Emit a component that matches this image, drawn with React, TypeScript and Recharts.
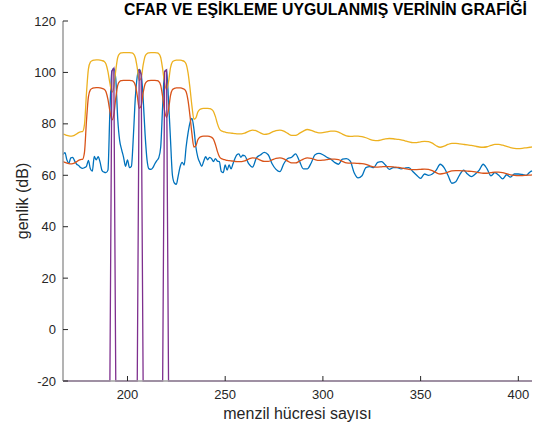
import { LineChart, Line, XAxis, YAxis } from "recharts";

// range cells (dense near the targets, every 2nd cell in the tail)
const cells = [
  167, 168, 169, 170, 171, 172, 173, 174, 175, 176, 177, 178, 179, 180, 181, 182, 183, 184, 185, 186,
  187, 188, 189, 190, 191, 192, 193, 194, 195, 196, 197, 198, 199, 200, 201, 202, 203, 204, 205, 206,
  207, 208, 209, 210, 211, 212, 213, 214, 215, 216, 217, 218, 219, 220, 221, 222, 223, 224, 225, 226,
  227, 228, 229, 230, 231, 232, 233, 234, 235, 236, 237, 238, 239, 240, 241, 242, 243, 244, 245, 246,
  247, 248, 249, 250, 251, 252, 253, 254, 255, 256, 257, 258, 259, 260,
  262, 264, 266, 268, 270, 272, 274, 276, 278, 280, 282, 284, 286, 288, 290, 292, 294, 296, 298, 300,
  302, 304, 306, 308, 310, 312, 314, 316, 318, 320, 322, 324, 326, 328, 330, 332, 334, 336, 338, 340,
  342, 344, 346, 348, 350, 352, 354, 356, 358, 360, 362, 364, 366, 368, 370, 372, 374, 376, 378, 380,
  382, 384, 386, 388, 390, 392, 394, 396, 398, 400, 402, 404, 406, 407,
];

// received signal (dB)
const signal = [
  68.0, 68.8, 66.0, 64.7, 66.8, 67.0, 65.5, 64.3, 63.8, 63.0, 62.7, 63.0, 63.5, 65.8, 62.5, 61.6, 67.3, 66.0, 67.2, 65.0,
  61.8, 61.2, 61.0, 62.0, 85.0, 100.5, 101.6, 97.5, 82.0, 73.5, 70.0, 67.0, 63.5, 66.0, 63.0, 63.5, 75.0, 90.0, 98.5, 101.2,
  99.3, 90.0, 76.0, 66.0, 62.5, 62.3, 63.0, 64.5, 65.7, 66.8, 71.0, 87.0, 100.3, 101.0, 89.0, 74.0, 60.0, 57.0, 56.5, 60.0,
  63.5, 65.0, 64.0, 71.0, 76.5, 80.5, 82.1, 78.0, 71.0, 67.0, 65.0, 63.5, 65.5, 67.2, 66.0, 67.0, 66.5, 65.3, 66.5, 65.5,
  65.3, 61.5, 61.0, 64.0, 62.0, 64.0, 62.5, 64.5, 66.5, 68.0, 68.3, 67.0, 67.8, 67.6,
  64.5, 63.2, 66.8, 67.9, 68.9, 68.0, 64.5, 62.3, 61.4, 64.5, 66.5, 67.0, 68.3, 65.5, 62.5, 62.5, 64.8, 68.0, 68.5, 68.0,
  67.0, 66.3, 65.0, 64.3, 66.3, 66.5, 65.5, 61.0, 59.0, 59.8, 63.0, 63.4, 63.0, 65.0, 65.3, 64.0, 62.3, 63.0, 63.0, 62.5,
  62.8, 63.0, 61.5, 60.0, 58.8, 60.5, 60.0, 60.5, 62.0, 64.3, 63.0, 60.0, 56.9, 57.5, 60.2, 62.0, 60.5, 59.5, 60.5, 62.0,
  64.3, 62.5, 59.8, 61.0, 60.0, 58.6, 60.2, 59.3, 60.5, 60.5, 60.3, 60.0, 61.3, 61.7,
];

// CFAR noise estimate (dB)
const noiseLevel = [
  65.3, 65.0, 64.7, 64.5, 64.4, 64.5, 64.8, 65.3, 65.8, 66.1, 66.2, 69.0, 81.0, 90.5, 93.2, 93.8, 94.0, 94.1, 94.1, 94.0,
  93.8, 93.5, 92.5, 89.5, 85.0, 81.5, 83.5, 90.0, 95.0, 96.5, 96.8, 96.9, 96.9, 96.9, 96.9, 96.8, 96.5, 95.0, 91.0, 86.0,
  87.0, 92.0, 95.5, 96.5, 96.8, 96.9, 96.9, 96.9, 96.8, 96.5, 95.0, 90.5, 85.0, 82.5, 85.5, 91.0, 93.3, 93.8, 94.0, 94.0,
  94.0, 93.8, 93.5, 92.5, 89.0, 83.0, 76.0, 71.0, 71.5, 73.8, 74.8, 75.1, 75.2, 75.2, 75.2, 75.1, 74.8, 74.0, 72.0, 69.3,
  67.3, 66.5, 66.2, 66.0, 65.8, 65.7, 65.6, 65.5, 65.4, 65.3, 65.3, 65.3, 65.4, 65.6,
  66.3, 66.8, 66.6, 65.9, 65.4, 65.4, 66.0, 66.6, 66.8, 66.4, 65.5, 64.8, 64.8, 65.5, 66.3, 66.8, 66.6, 66.1, 65.8, 65.9,
  66.1, 66.3, 66.3, 66.1, 65.4, 64.8, 64.7, 64.7, 64.6, 64.5, 64.2, 63.7, 63.3, 63.2, 63.3, 63.4, 63.4, 63.3, 63.1, 62.9,
  62.6, 62.3, 62.2, 62.2, 62.3, 62.4, 62.3, 61.8, 61.0, 60.5, 60.7, 61.2, 61.7, 61.8, 61.8, 61.7, 61.6, 61.5, 61.3, 61.0,
  60.8, 60.8, 61.0, 61.2, 61.2, 61.0, 60.6, 60.2, 60.0, 59.9, 59.9, 60.0, 60.1, 60.2,
];

// detection threshold (dB)
const threshold = [
  76.0, 75.8, 75.5, 75.3, 75.2, 75.3, 75.6, 76.1, 76.6, 76.9, 77.0, 79.8, 91.8, 101.3, 104.0, 104.6, 104.8, 104.9, 104.9, 104.8,
  104.6, 104.3, 103.3, 100.3, 95.8, 92.3, 94.3, 100.8, 105.8, 107.3, 107.6, 107.7, 107.7, 107.7, 107.7, 107.6, 107.3, 105.8, 101.8, 96.8,
  97.8, 102.8, 106.3, 107.3, 107.6, 107.7, 107.7, 107.7, 107.6, 107.3, 105.8, 101.3, 95.8, 93.3, 96.3, 101.8, 104.1, 104.6, 104.8, 104.8,
  104.8, 104.6, 104.3, 103.3, 99.8, 93.8, 86.8, 81.8, 82.3, 84.6, 85.6, 85.9, 86.0, 86.0, 86.0, 85.9, 85.6, 84.8, 82.8, 80.1,
  78.1, 77.3, 77.0, 76.8, 76.6, 76.5, 76.4, 76.3, 76.2, 76.1, 76.1, 76.1, 76.2, 76.4,
  77.1, 77.6, 77.3, 76.5, 75.9, 76.1, 76.8, 77.4, 77.6, 77.2, 76.3, 75.5, 75.5, 76.3, 77.2, 77.8, 77.5, 76.9, 76.5, 76.6,
  76.9, 77.2, 77.2, 76.8, 76.0, 75.3, 75.1, 75.2, 75.2, 75.0, 74.6, 74.0, 73.6, 73.5, 73.8, 74.2, 74.3, 74.2, 74.0, 73.8,
  73.4, 73.0, 72.7, 72.7, 73.0, 73.2, 73.1, 72.5, 71.5, 70.9, 71.3, 72.0, 72.4, 72.4, 72.2, 72.0, 71.8, 71.6, 71.3, 71.0,
  70.9, 71.1, 71.6, 72.0, 72.0, 71.7, 71.2, 70.8, 70.5, 70.4, 70.5, 70.7, 70.9, 71.0,
];

// detector output: -20 everywhere except the detected cells
const detCells = [167, 191, 192, 193, 194, 205, 206, 207, 208, 218, 219, 220, 221, 407];
const detValues = [-20, -20, 100.5, 101.6, -20, -20, 101.2, 99.3, -20, -20, 100.3, 101.0, -20, -20];

const xTicks = [200, 250, 300, 350, 400];
const yTicks = [-20, 0, 20, 40, 60, 80, 100, 120];

const data = cells.map((cell, i) => ({
  cell,
  signal: signal[i],
  noise: noiseLevel[i],
  threshold: threshold[i],
}));
const detData = detCells.map((cell, i) => ({ cell, det: detValues[i] }));

const font = "'Liberation Sans', Arial, Helvetica, sans-serif";
const tickStyle = { fill: "#262626", fontSize: 13, fontFamily: font };
const axisLineStyle = { stroke: "#a0a0a0", strokeWidth: 1.6 };
const tickLineStyle = { stroke: "#262626" };

export default function App() {
  return (
    <div
      style={{
        position: "absolute",
        left: 0,
        top: 0,
        width: 535,
        height: 427,
        background: "#fff",
        fontFamily: font,
      }}
    >
      <div
        style={{
          position: "absolute",
          left: 115,
          top: 2,
          width: 421,
          textAlign: "center",
          fontWeight: "bold",
          fontSize: 15.8,
          lineHeight: "16px",
          color: "#000",
          whiteSpace: "nowrap",
        }}
      >
        CFAR VE EŞİKLEME UYGULANMIŞ VERİNİN GRAFİĞİ
      </div>
      <LineChart
        width={535}
        height={427}
        data={data}
        margin={{ top: 21, right: 3, bottom: 0, left: 0 }}
      >
        <XAxis
          dataKey="cell"
          type="number"
          domain={[167, 407]}
          ticks={xTicks}
          interval={0}
          height={46}
          tickSize={-5}
          tickMargin={14}
          tick={tickStyle}
          tickLine={tickLineStyle}
          axisLine={axisLineStyle}
          label={{
            value: "menzil hücresi sayısı",
            position: "insideBottom",
            offset: 8,
            fill: "#262626",
            fontSize: 16,
            fontFamily: font,
          }}
        />
        <XAxis
          xAxisId="top"
          orientation="top"
          dataKey="cell"
          type="number"
          domain={[167, 407]}
          ticks={xTicks}
          interval={0}
          height={0}
          tickSize={-5}
          tick={false}
          tickLine={tickLineStyle}
          axisLine={axisLineStyle}
        />
        <YAxis
          type="number"
          domain={[-20, 120]}
          ticks={yTicks}
          interval={0}
          width={63}
          tickSize={-5}
          tickMargin={12}
          tick={tickStyle}
          tickLine={tickLineStyle}
          axisLine={axisLineStyle}
          label={{
            value: "genlik (dB)",
            angle: -90,
            position: "insideLeft",
            offset: 22,
            fill: "#262626",
            fontSize: 16,
            fontFamily: font,
            style: { textAnchor: "middle" },
          }}
        />
        <YAxis
          yAxisId="right"
          orientation="right"
          type="number"
          domain={[-20, 120]}
          ticks={yTicks}
          interval={0}
          width={0}
          tickSize={-5}
          tick={false}
          tickLine={tickLineStyle}
          axisLine={axisLineStyle}
        />

        {/* signal */}
        <Line
          type="monotone"
          dataKey="signal"
          stroke="#0072BD"
          strokeWidth={1.3}
          dot={false}
          isAnimationActive={false}
        />
        {/* noise estimate */}
        <Line
          type="monotone"
          dataKey="noise"
          stroke="#D95319"
          strokeWidth={1.3}
          dot={false}
          isAnimationActive={false}
        />
        {/* threshold */}
        <Line
          type="monotone"
          dataKey="threshold"
          stroke="#EDB120"
          strokeWidth={1.3}
          dot={false}
          isAnimationActive={false}
        />
        {/* detections */}
        <Line
          data={detData}
          type="linear"
          dataKey="det"
          stroke="#7E2F8E"
          strokeWidth={1.3}
          dot={false}
          isAnimationActive={false}
        />
      </LineChart>
    </div>
  );
}
